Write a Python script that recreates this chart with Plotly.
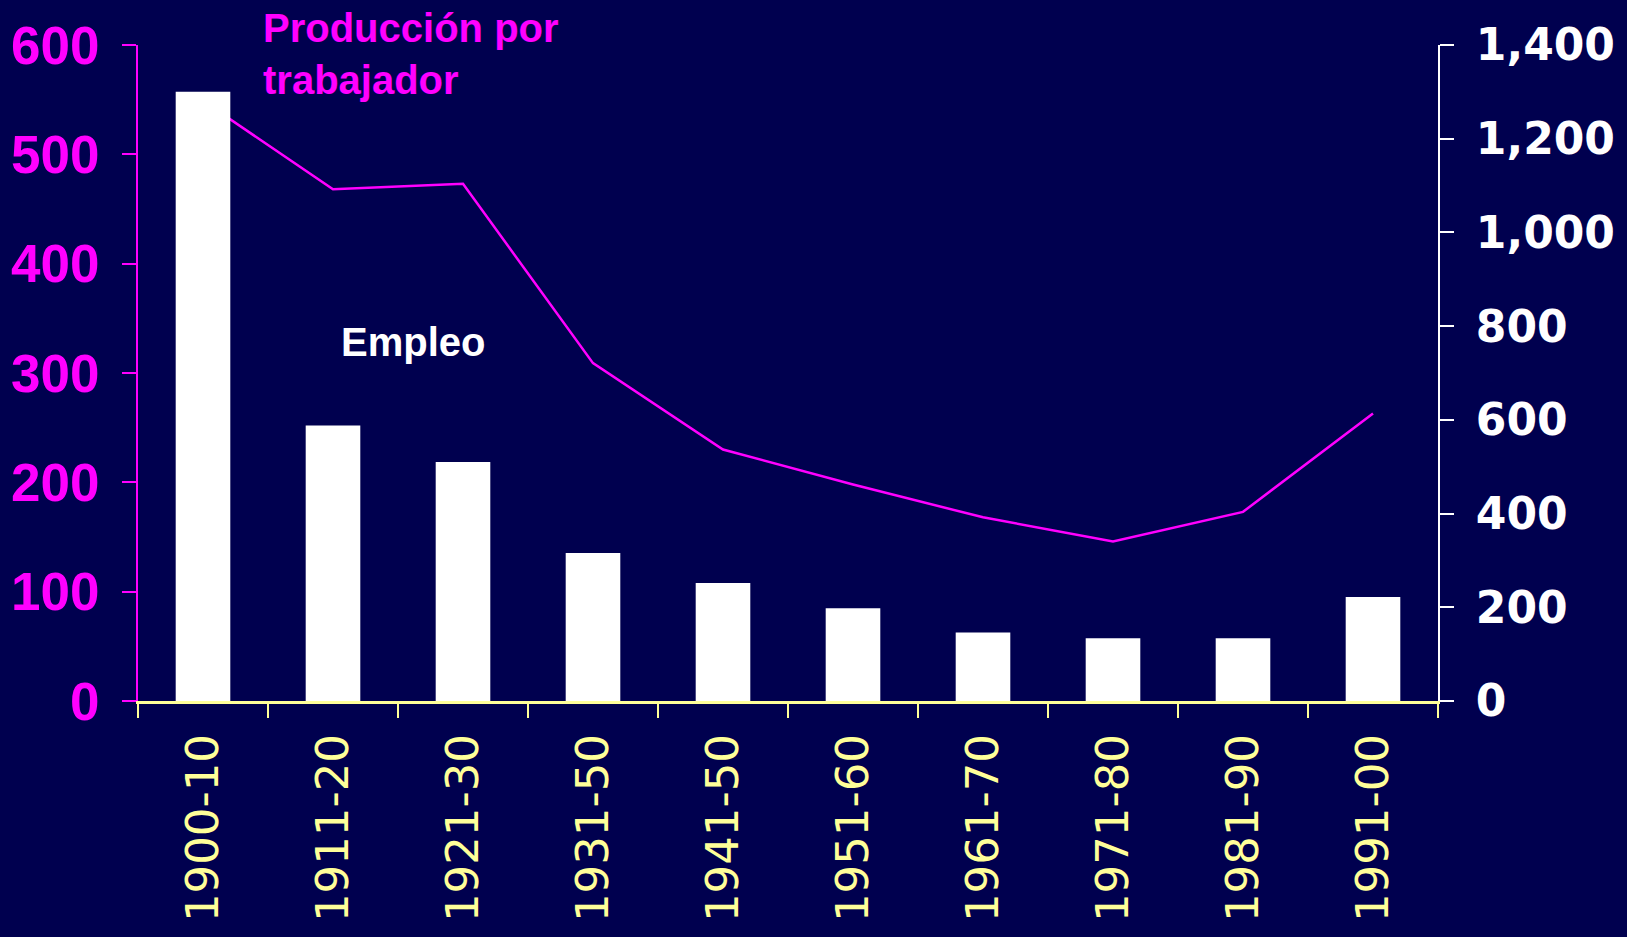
import plotly.graph_objects as go

PERIODS = ['1900-10', '1911-20', '1921-30', '1931-50', '1941-50',
           '1951-60', '1961-70', '1971-80', '1981-90', '1991-00']
EMPLEO = [1300, 588, 510, 316, 252, 198, 146, 134, 134, 222]  # right axis
PRODUCCION = [549, 468, 473, 309, 230, 198, 168, 146, 173, 263]  # left axis
LEFT_TICKS = [0, 100, 200, 300, 400, 500, 600]
RIGHT_TICKS = [0, 200, 400, 600, 800, 1000, 1200, 1400]

BG = '#00004f'
MAGENTA = '#ff00ff'
YELLOW = '#ffff99'


def main():
    fig = go.Figure()
    fig.add_trace(go.Bar(x=PERIODS, y=EMPLEO, yaxis='y2', width=0.42,
                         marker=dict(color='white', line_width=0)))
    fig.add_trace(go.Scatter(x=PERIODS, y=PRODUCCION, yaxis='y', mode='lines',
                             line=dict(color=MAGENTA, width=2.5)))

    fig.update_layout(
        width=1627, height=937,
        margin=dict(l=138, r=189, t=45, b=236),
        paper_bgcolor=BG, plot_bgcolor=BG,
        showlegend=False,
        xaxis=dict(type='category', range=[-0.5, 9.5], showgrid=False, automargin=False,
                   showline=True, linecolor=YELLOW, linewidth=3,
                   ticks='outside', tickson='boundaries', ticklen=14, tickwidth=2,
                   tickcolor=YELLOW, tickangle=-90, ticklabelstandoff=12,
                   tickfont=dict(family='DejaVu Sans', size=45, color=YELLOW)),
        yaxis=dict(range=[0, 600], tickvals=LEFT_TICKS, showgrid=False, zeroline=False,
                   automargin=False, showline=True, linecolor=MAGENTA, linewidth=2,
                   ticks='outside', ticklen=14, tickwidth=2, tickcolor=MAGENTA,
                   ticklabelstandoff=12,
                   tickfont=dict(family='Liberation Sans', size=53, color=MAGENTA,
                                 weight='bold')),
        yaxis2=dict(range=[0, 1400], tickvals=RIGHT_TICKS, tickformat=',d',
                    overlaying='y', side='right', showgrid=False, zeroline=False,
                    automargin=False, showline=True, linecolor='white', linewidth=2,
                    ticks='outside', ticklen=14, tickwidth=2, tickcolor='white',
                    ticklabelstandoff=13,
                    tickfont=dict(family='DejaVu Sans', size=44, color='white',
                                  weight='bold')),
    )

    fig.add_annotation(text='Producción por<br>trabajador', xref='paper', yref='paper',
                       x=0.0946, y=1.062, xanchor='left', yanchor='top', align='left',
                       showarrow=False,
                       font=dict(family='Liberation Sans', size=40, color=MAGENTA,
                                 weight='bold'))
    fig.add_annotation(text='Empleo', xref='paper', yref='paper',
                       x=0.2115, y=0.547, xanchor='center', yanchor='middle',
                       showarrow=False,
                       font=dict(family='Liberation Sans', size=40, color='white',
                                 weight='bold'))

    fig.write_html('out.html', config={'displayModeBar': False},
                   post_script="document.body.style.margin='0';"
                               "document.body.style.overflow='hidden';"
                               "document.body.style.background='%s';" % BG)


if __name__ == '__main__':
    main()
